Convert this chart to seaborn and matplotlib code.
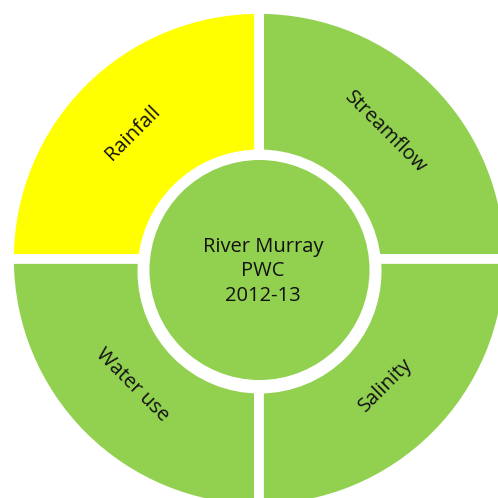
import matplotlib
matplotlib.use("Agg")
import matplotlib.pyplot as plt
import seaborn as sns
import numpy as np
from matplotlib.patches import Circle

sns.set_theme(style="white")
plt.rcParams['font.family'] = ['Open Sans', 'DejaVu Sans']

# Data
categories = ["Streamflow", "Rainfall", "Water use", "Salinity"]
values = [1, 1, 1, 1]
colors = ["#92D050", "#FFFF00", "#92D050", "#92D050"]
center_lines = ["River Murray", "PWC", "2012-13"]

W = 498
fig = plt.figure(figsize=(W / 100, W / 100), dpi=100)
ax = fig.add_axes([0, 0, 1, 1])

cx, cy = 259, W - 259
wedges, texts = ax.pie(values, colors=colors, startangle=0, counterclock=True,
                       center=(cx, cy), radius=250,
                       labels=categories, labeldistance=0.715,
                       wedgeprops=dict(edgecolor="white", linewidth=7),
                       textprops=dict(fontsize=14.5, color="#111111"))
for w, t in zip(wedges, texts):
    thetam = (w.theta1 + w.theta2) / 2
    rot = thetam - 90 if thetam < 180 else thetam + 90
    t.set_rotation(rot)
    t.set_ha("center")
    t.set_va("center")
    t.set_rotation_mode("anchor")

ax.add_patch(Circle((259.5, W - 271.5), 122, facecolor="white", edgecolor="none", zorder=3))
ax.add_patch(Circle((259.5, W - 270), 110, facecolor="#92D050", edgecolor="none", zorder=4))
ax.text(263, W - 271, "\n".join(center_lines), ha="center", va="center",
        fontsize=14.5, color="#111111", linespacing=1.3, zorder=5)

ax.set_xlim(0, W)
ax.set_ylim(0, W)
ax.set_aspect("equal")
ax.axis("off")
fig.savefig("out.png", dpi=100, facecolor="white")
